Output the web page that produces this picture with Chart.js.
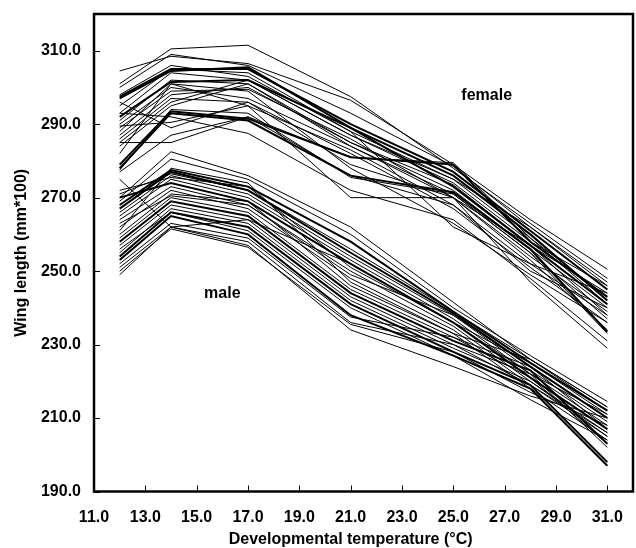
<!DOCTYPE html>
<html>
<head>
<meta charset="utf-8">
<script src="https://cdn.jsdelivr.net/npm/chart.js@4"></script>
<style>
	html, body { margin: 0; padding: 0; background: #fff; }
</style>
</head>
<body>
<canvas id="wing-chart" width="636" height="548"></canvas>
<script>
// Wing length by developmental temperature
const temperatures = [12, 14, 17, 21, 25, 28, 31];
const xTicks = [11, 13, 15, 17, 19, 21, 23, 25, 27, 29, 31];
const yTicks = [190, 210, 230, 250, 270, 290, 310];

const female = [
	[304.5, 308.5, 306.5, 296.5, 279, 264, 250.5],
	[301, 310.5, 311.5, 297.5, 278, 263, 248],
	[300, 309, 306, 293, 278.5, 262, 247],
	[297.5, 305, 305, 290, 277, 261, 245],
	[297, 304.5, 305.5, 289, 276, 260, 242],
	[295, 305, 304, 288, 275, 259, 243],
	[293, 304, 302, 287, 274, 258, 246],
	[292, 301.5, 302, 289, 273, 257, 241],
	[291, 302, 301, 285, 272, 256, 240],
	[290, 300, 297, 284, 271, 255, 237],
	[289, 299, 299.5, 286, 270, 254, 239],
	[288, 301, 295, 283, 268, 252, 238],
	[287, 298, 300, 285, 273.5, 257, 244],
	[286, 297, 296, 282, 267, 251, 236],
	[285, 296, 302, 287, 275, 262, 246],
	[284, 295, 301, 284, 270, 253, 234],
	[285, 285, 292, 281, 279.5, 259, 241],
	[279, 293.5, 291.5, 281, 279, 258, 243],
	[278, 293, 291, 276, 271.5, 256, 233.5],
	[277.5, 294, 293, 275.5, 271, 255, 233],
	[277, 287, 292, 276, 268, 250, 240],
	[293, 292, 287.5, 272, 264, 248, 231],
	[296, 289, 296, 279, 270, 247, 229],
	[298, 306, 303, 288, 262, 252, 244],
	[289.5, 290.5, 295, 270, 270, 257, 238],
	[282, 301, 299, 278, 263, 249, 236]
];

const male = [
	[275, 262, 264, 252, 236, 222, 208],
	[270, 282.5, 276, 262, 241.5, 226, 213],
	[269, 280.5, 275, 260, 240, 227, 214.5],
	[268, 277.5, 273, 258, 239, 225, 212],
	[267, 277, 272, 255, 238.5, 224, 210],
	[266, 276, 271, 254, 238, 223, 209],
	[265, 275, 270, 253, 237, 222, 211],
	[270, 274, 269, 252, 236, 221, 207],
	[264, 273, 268, 250, 235, 220, 206],
	[262, 272, 267, 248, 234, 219, 205],
	[260, 271, 269, 246, 233, 218, 204],
	[259, 270, 266, 245, 232, 224, 210],
	[258, 269, 265, 244, 231, 223, 203],
	[257, 268, 264, 243, 230, 222, 202],
	[255, 267, 263, 242, 229, 220, 205],
	[254, 266, 262, 241, 228, 219, 198],
	[253, 265, 260, 238, 227, 218, 197],
	[252, 263, 259, 237.5, 232, 221, 203],
	[251, 262, 258, 236, 230, 219, 206],
	[250, 261.5, 256.5, 235.5, 228, 217, 208],
	[249, 262, 257, 234, 224, 216, 210],
	[271, 276.5, 272, 256, 239, 226, 212],
	[272, 275.5, 273, 251, 236, 225, 211],
	[263, 270.5, 268, 249, 238, 224, 207],
	[261, 278, 274, 247, 233, 226, 213],
	[256, 266, 261, 240, 227, 215, 204]
];

const groupLabels = [
	{ text: 'female', x: 26.3, y: 297.9 },
	{ text: 'male', x: 16.0, y: 244 }
];
const xTitle = 'Developmental temperature (\u00B0C)';
const yTitle = 'Wing length (mm*100)';

// lines drawn heavier in the original
const heavyFemale = [3, 4, 7, 17, 18];
const heavyMale = [3, 4, 7, 12, 15, 16];

(function () {
	const FONT = 'Liberation Sans, Arial, Helvetica, sans-serif';

	function buildDatasets (rows, heavy, name) {
		return rows.map((row, index) => ({
			label: name + ' ' + (index + 1),
			data: row.map((value, i) => ({ x: temperatures[i], y: value })),
			borderColor: '#000',
			borderWidth: heavy.includes(index) ? 2 : 1,
			pointRadius: 0,
			fill: false,
			tension: 0
		}));
	}

	const framePlugin = {
		id: 'frame',
		afterDraw (chart) {
			const ctx = chart.ctx;
			const area = chart.chartArea;
			const xs = chart.scales.x;
			const ys = chart.scales.y;

			ctx.save();
			ctx.strokeStyle = '#000';

			ctx.lineWidth = 1;
			ctx.beginPath();
			xTicks.forEach(v => {
				const px = Math.round(xs.getPixelForValue(v)) + 0.5;
				ctx.moveTo(px, area.bottom);
				ctx.lineTo(px, area.bottom - 6);
			});
			yTicks.forEach(v => {
				const py = Math.round(ys.getPixelForValue(v)) + 0.5;
				ctx.moveTo(area.left, py);
				ctx.lineTo(area.left + 6, py);
			});
			ctx.stroke();

			ctx.lineWidth = 2.5;
			ctx.strokeRect(area.left, area.top, area.right - area.left, area.bottom - area.top);

			ctx.fillStyle = '#000';
			ctx.font = 'bold 16px ' + FONT;
			ctx.textAlign = 'center';
			ctx.textBaseline = 'middle';
			groupLabels.forEach(label => {
				ctx.fillText(label.text, xs.getPixelForValue(label.x), ys.getPixelForValue(label.y));
			});

			ctx.fillText(xTitle, xs.getPixelForValue((xTicks[0] + xTicks[xTicks.length - 1]) / 2), 540);
			ctx.restore();
		}
	};

	const ctx = document.getElementById('wing-chart');
	new Chart(ctx, {
		type: 'line',
		data: {
			datasets: buildDatasets(female, heavyFemale, 'female').concat(buildDatasets(male, heavyMale, 'male'))
		},
		options: {
			responsive: false,
			animation: false,
			devicePixelRatio: 1,
			layout: { padding: { top: 14, right: 3, left: 0, bottom: 0 } },
			plugins: {
				legend: { display: false },
				tooltip: { enabled: false }
			},
			scales: {
				x: {
					type: 'linear',
					min: 11,
					max: 32,
					grid: { display: false, drawTicks: false },
					border: { display: false },
					afterBuildTicks: scale => { scale.ticks = xTicks.map(v => ({ value: v })); },
					afterFit: scale => {
						scale.height = 56.5;
						scale.paddingLeft = 0;
						scale.paddingRight = 0;
					},
					ticks: {
						padding: 16,
						color: '#000',
						maxRotation: 0,
						font: { family: FONT, size: 16, weight: 'bold' },
						callback: v => v.toFixed(1)
					}
				},
				y: {
					type: 'linear',
					min: 190,
					max: 320,
					grid: { display: false, drawTicks: false },
					border: { display: false },
					afterBuildTicks: scale => { scale.ticks = yTicks.map(v => ({ value: v })); },
					afterFit: scale => {
						scale.width = 94;
						scale.paddingTop = 0;
						scale.paddingBottom = 0;
					},
					title: {
						display: true,
						text: yTitle,
						color: '#000',
						padding: { top: 12, bottom: 0 },
						font: { family: FONT, size: 16, weight: 'bold' }
					},
					ticks: {
						padding: 13,
						color: '#000',
						font: { family: FONT, size: 16, weight: 'bold' },
						callback: v => v.toFixed(1)
					}
				}
			}
		},
		plugins: [framePlugin]
	});
})();
</script>
</body>
</html>
